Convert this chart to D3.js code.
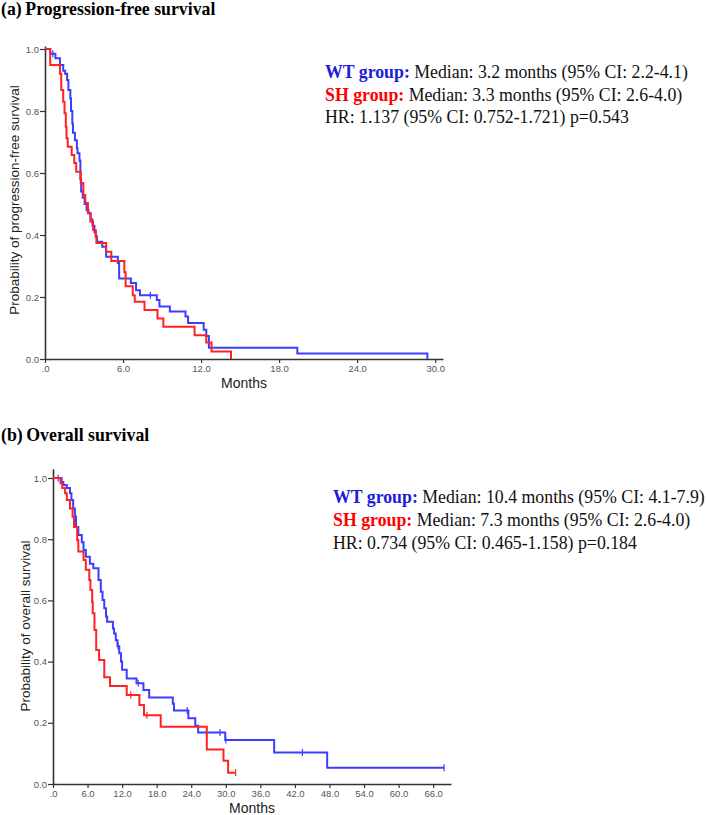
<!DOCTYPE html>
<html><head><meta charset="utf-8">
<script src="https://cdn.jsdelivr.net/npm/d3@7"></script>
<style>
body{margin:0;background:#fff;}
svg{display:block;}
</style></head>
<body>
<svg id="chart" width="708" height="815"></svg>
<script>
// ---------- DATA ----------
// (a) Progression-free survival
const pfsWT_t = [0.4,0.8,1.15,1.4,1.55,1.7,1.8,1.95,2.0,2.1,2.15,2.3,2.45,2.5,2.65,2.72,2.78,2.9,3.05,3.2,3.35,3.5,3.65,3.8,3.9,4.0,4.4,4.7,5.6,5.7,6.6,7.0,7.3,8.6,8.8,9.6,10.8,11.0,12.2,12.4,12.6,19.4,29.4];
const pfsWT_s = [0.985,0.97,0.948,0.93,0.92,0.90,0.868,0.84,0.80,0.76,0.73,0.706,0.68,0.664,0.64,0.58,0.54,0.52,0.50,0.48,0.47,0.45,0.43,0.41,0.395,0.378,0.362,0.33,0.31,0.26,0.245,0.222,0.206,0.19,0.169,0.153,0.137,0.116,0.094,0.074,0.036,0.018,0];
const pfsWT_cens = [0.6,8.1];
const pfsSH_t = [0.4,1.15,1.25,1.4,1.5,1.6,1.65,1.75,2.05,2.25,2.4,2.75,2.95,3.1,3.3,3.5,3.7,3.9,3.95,4.7,5.1,6.1,6.2,6.75,6.9,7.65,8.65,9.1,11.5,12.4,12.8,14.3];
const pfsSH_s = [0.948,0.92,0.868,0.83,0.793,0.749,0.712,0.685,0.658,0.632,0.604,0.568,0.529,0.503,0.47,0.443,0.416,0.395,0.374,0.346,0.316,0.28,0.235,0.206,0.185,0.158,0.131,0.104,0.077,0.053,0.024,0];
const pfsSH_cens = [];
// (b) Overall survival
const osWT_t = [1.5,1.8,2.4,2.95,3.2,3.5,3.8,4.0,4.4,5.0,5.3,5.7,6.4,7.0,7.9,8.3,8.6,8.9,9.2,9.4,10.4,10.6,10.9,11.2,11.5,11.8,12.0,12.8,14.5,15.7,16.7,20.8,21.0,23.5,24.7,25.2,29.9,38.4,47.6,67.9];
const osWT_s = [0.987,0.977,0.967,0.95,0.928,0.90,0.874,0.84,0.814,0.79,0.765,0.743,0.72,0.705,0.667,0.628,0.601,0.574,0.547,0.53,0.508,0.492,0.47,0.45,0.427,0.40,0.373,0.345,0.329,0.307,0.283,0.262,0.24,0.215,0.19,0.168,0.144,0.103,0.053,0.053];
const osWT_cens = [0.9,11.3,14.8,23.3,29.0,30.0,43.3,67.9];
const osSH_t = [1.3,1.6,2.1,2.4,2.95,3.4,3.65,4.2,4.4,5.3,5.7,6.3,6.5,6.8,6.9,7.2,7.5,8.0,8.9,9.9,12.8,15.0,15.8,18.7,26.7,29.6,30.4,31.7];
const osSH_s = [0.983,0.967,0.95,0.928,0.90,0.873,0.84,0.797,0.76,0.732,0.70,0.667,0.634,0.595,0.558,0.503,0.438,0.405,0.349,0.32,0.291,0.258,0.225,0.187,0.113,0.076,0.037,0.037];
const osSH_cens = [13.5,16.3,31.7];

const yTicks = [0,0.2,0.4,0.6,0.8,1.0];
const xTicksA = [0,6,12,18,24,30];
const xTicksB = [0,6,12,18,24,30,36,42,48,54,60,66];

const titleA = "(a)\u2009Progression-free survival";
const titleB = "(b)\u2009Overall survival";
const ylabA = "Probability of progression-free survival";
const ylabB = "Probability of overall survival";
const xlab = "Months";
const legA = [["WT group:", " Median: 3.2 months (95% CI: 2.2-4.1)"],["SH group:"," Median: 3.3 months (95% CI: 2.6-4.0)"],["","HR: 1.137 (95% CI: 0.752-1.721) p=0.543"]];
const legB = [["WT group:", " Median: 10.4 months (95% CI: 4.1-7.9)"],["SH group:"," Median: 7.3 months (95% CI: 2.6-4.0)"],["","HR: 0.734 (95% CI: 0.465-1.158) p=0.184"]];

// ---------- STYLE ----------
const BLUE = "#3d3dff", RED = "#ff2222";
const BLUE_TXT = "#1c1cd8", RED_TXT = "#ff0000";
const SERIF = "'Times New Roman','Liberation Serif',serif";
const SANS = "Arial,'Liberation Sans',Helvetica,sans-serif";

const svg = d3.select("#chart");

function panel(cfg){
  const x = d3.scaleLinear().domain(cfg.xdom).range(cfg.xrange);
  const y = d3.scaleLinear().domain([0, cfg.ytop]).range([cfg.y0, cfg.y0 - cfg.pxPerUnit*cfg.ytop]);
  const g = svg.append("g");

  // x axis
  const xa = g.append("g").attr("transform",`translate(0,${cfg.y0})`)
    .call(d3.axisBottom(x).tickValues(cfg.xticks).tickSize(4).tickSizeOuter(0).tickPadding(2)
      .tickFormat(d => d===0 ? ".0" : d.toFixed(1)));
  // y axis
  const ya = g.append("g").attr("transform",`translate(${cfg.xrange[0]},0)`)
    .call(d3.axisLeft(y).tickValues(yTicks).tickSize(5).tickSizeOuter(0).tickPadding(1)
      .tickFormat(d => d.toFixed(1)));
  [xa,ya].forEach(a=>{
    a.select(".domain").attr("stroke","#333").attr("stroke-width",1.6);
    a.selectAll(".tick line").attr("stroke","#333").attr("stroke-width",1.2);
    a.selectAll(".tick text").attr("fill","#555").style("font-family",SANS).style("font-size","9.5px");
  });

  const line = d3.line().x(d=>x(d[0])).y(d=>y(d[1])).curve(d3.curveStepAfter);
  cfg.series.forEach(s=>{
    const pts = [[0,1]].concat(s.t.map((t,i)=>[t,s.s[i]]));
    g.append("path").attr("d",line(pts)).attr("fill","none")
      .attr("stroke",s.color).attr("stroke-width",2).attr("stroke-linejoin","miter");
    const survAt = t => { let v=1; for(let i=0;i<s.t.length;i++){ if(s.t[i]<=t) v=s.s[i]; } return v; };
    g.selectAll(null).data(s.cens).enter().append("line")
      .attr("x1",d=>x(d)).attr("x2",d=>x(d))
      .attr("y1",d=>y(survAt(d))-3.5).attr("y2",d=>y(survAt(d))+3.5)
      .attr("stroke",s.color).attr("stroke-width",1.2);
  });

  // axis labels
  g.append("text").attr("x",(cfg.xrange[0]+cfg.xrange[1])/2).attr("y",cfg.xlabY)
    .attr("text-anchor","middle").style("font-family",SANS).style("font-size","14px").attr("fill","#222").text(xlab);
  g.append("text").attr("transform",`translate(${cfg.ylabX},${cfg.ylabY}) rotate(-90)`)
    .attr("text-anchor","middle").style("font-family",SANS).style("font-size","13.5px").attr("fill","#222").text(cfg.ylab);

  // title
  svg.append("text").attr("x",1).attr("y",cfg.titleY).style("font-family",SERIF).style("font-weight","bold")
    .style("font-size","17.8px").attr("fill","#000").text(cfg.title);

  // legend text
  cfg.leg.forEach((l,i)=>{
    const t = svg.append("text").attr("x",cfg.legX).attr("y",cfg.legY + i*cfg.legDy)
      .style("font-family",SERIF).style("font-size","17.8px").attr("fill","#111");
    if(l[0]) t.append("tspan").style("font-weight","bold").attr("fill", i===0?BLUE_TXT:RED_TXT).text(l[0]);
    t.append("tspan").text(l[1]);
  });
}

panel({xdom:[0,30.6], xrange:[45,443], y0:359, pxPerUnit:310, ytop:1.01, xticks:xTicksA,
  series:[{t:pfsWT_t,s:pfsWT_s,cens:pfsWT_cens,color:BLUE},{t:pfsSH_t,s:pfsSH_s,cens:pfsSH_cens,color:RED}],
  xlabY:388, ylab:ylabA, ylabX:19, ylabY:200, title:titleA, titleY:15,
  leg:legA, legX:325, legY:78, legDy:22.5});

panel({xdom:[0,69.1], xrange:[53,451], y0:784, pxPerUnit:306, ytop:1.03, xticks:xTicksB,
  series:[{t:osWT_t,s:osWT_s,cens:osWT_cens,color:BLUE},{t:osSH_t,s:osSH_s,cens:osSH_cens,color:RED}],
  xlabY:813, ylab:ylabB, ylabX:30, ylabY:626, title:titleB, titleY:441,
  leg:legB, legX:333, legY:503, legDy:23});
</script>
</body></html>
